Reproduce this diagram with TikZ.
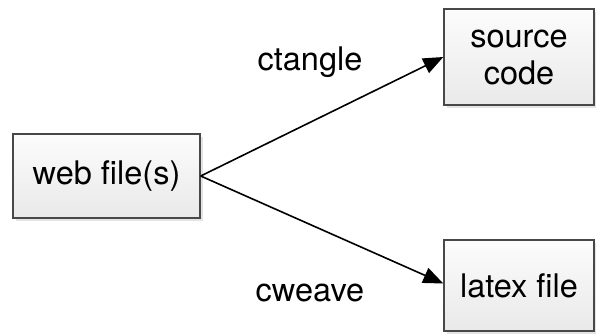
\documentclass[tikz,border=0pt]{standalone}
\usepackage{fontspec}
\setmainfont{TeX Gyre Heros}
\usetikzlibrary{arrows.meta,shadows}
\definecolor{boxedge}{HTML}{484848}
\definecolor{boxtop}{HTML}{FCFCFC}
\definecolor{boxbottom}{HTML}{E9E9E9}
\tikzset{
  filebox/.style={draw=boxedge, line width=1.4pt, top color=boxtop, bottom color=boxbottom,
    align=center, inner sep=0pt, font=\fontsize{32.5}{37}\selectfont,
    drop shadow={shadow xshift=3pt, shadow yshift=-3pt, fill=gray!35, opacity=0.6}},
  flow/.style={line width=1.6pt, -{Triangle[length=20pt,width=16pt]}},
  tool/.style={font=\fontsize{32.5}{37}\selectfont, inner sep=0pt}
}
\begin{document}
\begin{tikzpicture}[x=1pt, y=-1pt]
  \useasboundingbox (0,0) rectangle (596,333);
  % input and the two generated files
  \node[filebox, minimum width=187pt, minimum height=84pt] (web) at (106.5,176) {web file(s)};
  \node[filebox, minimum width=150pt, minimum height=96pt] (src) at (519,57) {source\\code};
  \node[filebox, minimum width=150pt, minimum height=91pt] (tex) at (519,285.5) {latex file};
  % tool names
  \node[tool] (ct) at (310,62) {ctangle};
  \node[tool] (cw) at (310,293) {cweave};
  % processing arrows
  \draw[flow] (web.east) -- (src.west);
  \draw[flow] (web.east) -- ([yshift=2pt]tex.west);
\end{tikzpicture}
\end{document}
